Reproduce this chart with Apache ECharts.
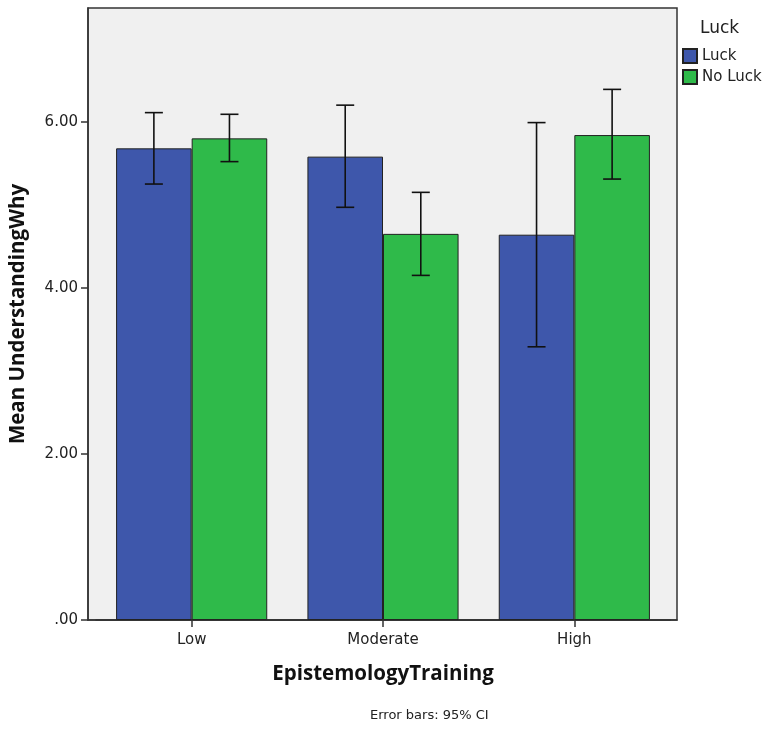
<!DOCTYPE html>
<html>
<head>
<meta charset="utf-8">
<script src="https://cdn.jsdelivr.net/npm/echarts@6/dist/echarts.min.js"></script>
<style>html,body{margin:0;padding:0;background:#fff;}#c{width:765px;height:729px;}</style>
</head>
<body>
<div id="c"></div>
<script>
const categories = ['Low', 'Moderate', 'High'];
const luckMeans = [5.68, 5.58, 4.64];
const noLuckMeans = [5.80, 4.65, 5.84];
const luckCI = [[5.25, 6.11], [4.97, 6.20], [3.29, 5.99]];
const noLuckCI = [[5.52, 6.09], [4.15, 5.15], [5.31, 6.39]];
const yTicks = [0, 2, 4, 6];
const yMax = 7.37;

const FONT = '"DejaVu Sans", sans-serif';
const TFONT = '"Open Sans", sans-serif';
const BLUE = '#3E57AB';
const GREEN = '#2FBA4A';
const CAT_GAP = 0.21;

function errItem(side) {
  return function (params, api) {
    const c = api.value(0);
    const lo = api.coord([c, api.value(1)]);
    const hi = api.coord([c, api.value(2)]);
    const band = api.size([1, 0])[0];
    const barW = band * (1 - CAT_GAP) / 2;
    const x = lo[0] + side * barW / 2;
    const cap = 9;
    const style = { stroke: '#111', lineWidth: 1.6 };
    return {
      type: 'group',
      children: [
        { type: 'line', shape: { x1: x, y1: lo[1], x2: x, y2: hi[1] }, style },
        { type: 'line', shape: { x1: x - cap, y1: lo[1], x2: x + cap, y2: lo[1] }, style },
        { type: 'line', shape: { x1: x - cap, y1: hi[1], x2: x + cap, y2: hi[1] }, style }
      ]
    };
  };
}

const chart = echarts.init(document.getElementById('c'), null, { renderer: 'canvas' });
chart.setOption({
  animation: false,
  backgroundColor: '#fff',
  textStyle: { fontFamily: FONT },
  grid: [
    { left: 87, top: 8, width: 590, height: 612, show: true, backgroundColor: '#F0F0F0', borderColor: '#333', borderWidth: 1.5 },
    { left: 96, top: 8, width: 574, height: 612 }
  ],
  xAxis: [
    { gridIndex: 0, type: 'category', data: categories, axisLine: { show: true, lineStyle: { color: '#333', width: 1.5 } }, axisTick: { show: false }, axisLabel: { show: false }, splitLine: { show: false } },
    { gridIndex: 1, type: 'category', data: categories,
      axisLine: { show: true, lineStyle: { color: '#333', width: 1.5 } },
      axisTick: { show: true, alignWithLabel: true, length: 7, lineStyle: { color: '#333', width: 1.5 } },
      axisLabel: { color: '#222', fontSize: 15, margin: 13, fontFamily: FONT },
      name: 'EpistemologyTraining', nameLocation: 'middle', nameGap: 44,
      nameTextStyle: { fontSize: 20.5, fontWeight: 'bold', color: '#111', fontFamily: TFONT } }
  ],
  yAxis: [
    { gridIndex: 0, type: 'value', min: 0, max: yMax,
      axisLine: { show: true, lineStyle: { color: '#333', width: 1.5 } },
      axisTick: { show: true, length: 7, customValues: yTicks, lineStyle: { color: '#333', width: 1.5 } },
      axisLabel: { customValues: yTicks, color: '#222', fontSize: 15, margin: 10, fontFamily: FONT,
        formatter: v => v === 0 ? '.00' : v.toFixed(2) },
      splitLine: { show: false },
      name: 'Mean UnderstandingWhy', nameLocation: 'middle', nameGap: 59,
      nameTextStyle: { fontSize: 20.5, fontWeight: 'bold', color: '#111', fontFamily: TFONT } },
    { gridIndex: 1, type: 'value', min: 0, max: yMax, show: false }
  ],
  legend: {
    left: 682, top: 48, orient: 'vertical', icon: 'rect', itemWidth: 14, itemHeight: 14, itemGap: 5, padding: 0,
    textStyle: { fontSize: 15, lineHeight: 14, color: '#222', fontFamily: FONT },
    data: ['Luck', 'No Luck']
  },
  graphic: [
    { type: 'text', left: 700, top: 20, style: { text: 'Luck', fontSize: 17, fill: '#222', fontFamily: FONT } },
    { type: 'text', left: 370, top: 709, style: { text: 'Error bars: 95% CI', fontSize: 13, fill: '#222', fontFamily: FONT } }
  ],
  series: [
    { name: 'Luck', type: 'bar', xAxisIndex: 1, yAxisIndex: 1, data: luckMeans, barGap: '0%', barCategoryGap: '21%',
      itemStyle: { color: BLUE, borderColor: '#222', borderWidth: 1 } },
    { name: 'No Luck', type: 'bar', xAxisIndex: 1, yAxisIndex: 1, data: noLuckMeans, barGap: '0%', barCategoryGap: '21%',
      itemStyle: { color: GREEN, borderColor: '#222', borderWidth: 1 } },
    { type: 'custom', xAxisIndex: 1, yAxisIndex: 1, renderItem: errItem(-1), z: 10,
      encode: { x: 0, y: [1, 2] }, data: luckCI.map((d, i) => [i, d[0], d[1]]) },
    { type: 'custom', xAxisIndex: 1, yAxisIndex: 1, renderItem: errItem(1), z: 10,
      encode: { x: 0, y: [1, 2] }, data: noLuckCI.map((d, i) => [i, d[0], d[1]]) }
  ]
});
</script>
</body>
</html>
